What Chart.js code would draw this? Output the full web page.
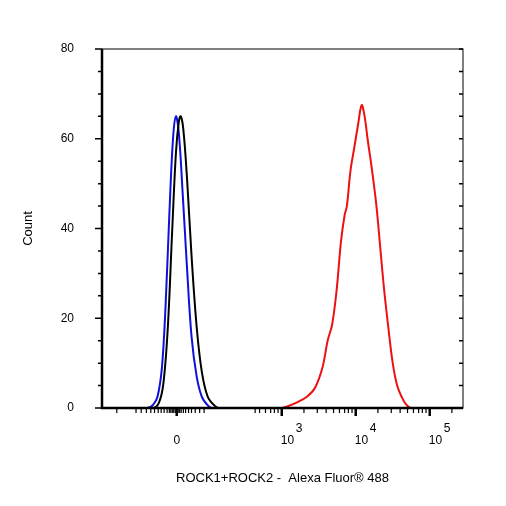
<!DOCTYPE html>
<html>
<head>
<meta charset="utf-8">
<script src="https://cdn.jsdelivr.net/npm/chart.js@4"></script>
<style>
  html, body { margin: 0; padding: 0; background: #fff; }
  #wrap { width: 506px; height: 506px; }
</style>
</head>
<body>
<div id="wrap"><canvas id="histChart" width="506" height="506"></canvas></div>
<script>
// x values are in display decades (biexponential axis): 0 sits at ~1.58, 10^3 at 3, 10^4 at 4, 10^5 at 5
const xMin = 0.57;
const xMax = 5.45;
const xTickValues = [1.58, 3, 4, 5];
const xTickBase = ['0', '10', '10', '10'];
const xTickExp = ['', '3', '4', '5'];
const xMinorTicks = [0.77, 1.03, 1.1, 1.17, 1.23, 1.28, 1.33, 1.37, 1.41, 1.45, 1.48, 1.5, 1.52, 1.54, 1.56, 1.6,
  1.62, 1.64, 1.67, 1.7, 1.74, 1.78, 1.83, 1.89, 1.95,
  2.64, 2.7, 2.78, 2.85, 2.9, 2.95, 3.3, 3.48, 3.6, 3.7, 3.78, 3.85, 3.9, 3.95,
  4.3, 4.48, 4.6, 4.7, 4.78, 4.85, 4.9, 4.95, 5.3];
const yTicks = [0, 20, 40, 60, 80];

const blueX = [0.57, 1.18, 1.26, 1.32, 1.38, 1.43, 1.48, 1.53, 1.57, 1.61, 1.66, 1.72, 1.78, 1.85, 1.92, 2.0, 2.06, 5.45];
const blueY = [0, 0, 0.7, 2.5, 9, 23, 43, 60, 65, 61, 48, 31, 16, 7, 2.5, 0.6, 0, 0];

const blackX = [0.57, 1.26, 1.34, 1.40, 1.46, 1.52, 1.57, 1.61, 1.635, 1.67, 1.72, 1.78, 1.85, 1.92, 2.0, 2.1, 2.16, 5.45];
const blackY = [0, 0, 1.2, 5.5, 18, 40, 57, 64, 65, 62, 51, 34, 18, 8, 2.5, 0.4, 0, 0];

const redX = [0.57, 3.0, 3.1, 3.2, 3.34, 3.45, 3.55, 3.62, 3.68, 3.74, 3.80, 3.85, 3.88, 3.93, 3.98, 4.03, 4.08,
  4.12, 4.16, 4.22, 4.28, 4.33, 4.38, 4.44, 4.50, 4.56, 4.62, 4.68, 4.75, 5.45];
const redY = [0, 0, 0.5, 1.2, 2.5, 4.5, 9, 15, 18.5, 26, 37, 43, 45, 53, 58, 63, 67.5,
  65, 60, 53, 45, 36, 27, 18, 10, 5, 2.5, 0.8, 0, 0];

const toPts = (xs, ys) => xs.map((x, i) => ({ x, y: ys[i] }));

const frameAndTicks = {
  id: 'frameAndTicks',
  afterDraw(chart) {
    const { ctx, chartArea: a, scales: { x, y } } = chart;
    ctx.save();
    ctx.strokeStyle = '#000';
    ctx.lineWidth = 1;
    ctx.strokeRect(a.left, a.top, a.right - a.left, a.bottom - a.top);
    ctx.lineWidth = 2.5;
    ctx.beginPath();
    ctx.moveTo(a.left, a.top); ctx.lineTo(a.left, a.bottom + 1);
    ctx.moveTo(a.left - 1, a.bottom); ctx.lineTo(a.right, a.bottom);
    ctx.stroke();
    // y ticks, left and right
    ctx.lineWidth = 1.5;
    for (let v = 0; v <= 80; v += 5) {
      const py = y.getPixelForValue(v);
      const len = v % 20 === 0 ? 7 : 4;
      ctx.beginPath();
      ctx.moveTo(a.left - len, py); ctx.lineTo(a.left, py);
      ctx.moveTo(a.right - 4, py); ctx.lineTo(a.right, py);
      ctx.stroke();
    }
    // x ticks and labels
    ctx.fillStyle = '#000';
    ctx.textBaseline = 'middle';
    xTickValues.forEach((v, i) => {
      const px = x.getPixelForValue(v);
      ctx.lineWidth = 2.5;
      ctx.beginPath(); ctx.moveTo(px, a.bottom); ctx.lineTo(px, a.bottom + 8); ctx.stroke();
      ctx.font = '12px "Liberation Sans", Arial, sans-serif';
      if (xTickExp[i]) {
        ctx.textAlign = 'left';
        ctx.fillText(xTickBase[i], px - 1, a.bottom + 33);
        ctx.fillText(xTickExp[i], px + 14, a.bottom + 21);
      } else {
        ctx.textAlign = 'center';
        ctx.fillText(xTickBase[i], px, a.bottom + 33);
      }
    });
    ctx.lineWidth = 1.2;
    xMinorTicks.forEach(v => {
      const px = x.getPixelForValue(v);
      ctx.beginPath(); ctx.moveTo(px, a.bottom); ctx.lineTo(px, a.bottom + 5); ctx.stroke();
    });
    ctx.restore();
  }
};

const font = { family: 'Liberation Sans, Arial, sans-serif', size: 12 };

new Chart(document.getElementById('histChart'), {
  type: 'line',
  data: {
    datasets: [
      { data: toPts(redX, redY), borderColor: '#ee1111', borderWidth: 2 },
      { data: toPts(blackX, blackY), borderColor: '#000000', borderWidth: 2 },
      { data: toPts(blueX, blueY), borderColor: '#1010dd', borderWidth: 2 }
    ]
  },
  options: {
    responsive: false,
    animation: false,
    layout: { padding: { top: 49, right: 43, left: 0, bottom: 0 } },
    elements: { point: { radius: 0 }, line: { tension: 0.35 } },
    plugins: { legend: { display: false }, tooltip: { enabled: false } },
    scales: {
      x: {
        type: 'linear', min: xMin, max: xMax,
        afterFit: s => { s.height = 98; },
        ticks: { display: false },
        grid: { display: false },
        border: { display: false },
        title: {
          display: true, text: 'ROCK1+ROCK2 -  Alexa Fluor® 488', color: '#000',
          font: { family: font.family, size: 13 }, padding: { top: 0, bottom: 20 }
        }
      },
      y: {
        min: 0, max: 80,
        afterFit: s => { s.width = 102; },
        afterBuildTicks: s => { s.ticks = yTicks.map(v => ({ value: v })); },
        ticks: { padding: 20, color: '#000', font },
        grid: { display: false },
        border: { display: false },
        title: {
          display: true, text: 'Count', color: '#000',
          font: { family: font.family, size: 13 }, padding: { top: 21, bottom: 0 }
        }
      }
    }
  },
  plugins: [frameAndTicks]
});
</script>
</body>
</html>
